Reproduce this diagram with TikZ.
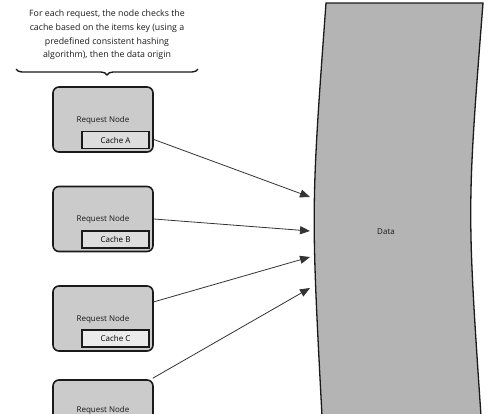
\documentclass[tikz,border=0pt]{standalone}
\usepackage{fontspec}
\setmainfont{Open Sans}
\usetikzlibrary{arrows.meta,decorations.pathreplacing,calc}
\definecolor{boxfill}{HTML}{CBCBCB}
\definecolor{cachefill}{HTML}{DDDDDD}
\definecolor{datafill}{HTML}{B4B4B4}
\definecolor{edge}{HTML}{1A1A1A}
\tikzset{
  reqbox/.style={draw=edge, line width=1.6pt, fill=boxfill, rounded corners=6pt,
    minimum width=100pt, minimum height=65pt, inner sep=0pt},
  cachebox/.style={draw=edge, line width=1.6pt, fill=cachefill,
    minimum width=67pt, minimum height=17pt, inner sep=0pt, font=\fontsize{8}{9}\selectfont},
  lbl/.style={font=\fontsize{8}{9}\selectfont, text=black!90, inner sep=0pt},
  conn/.style={draw=black!80, line width=0.8pt, -{Triangle[length=10pt,width=8pt]}}
}
\begin{document}
\begin{tikzpicture}[x=1pt,y=-1pt]
\useasboundingbox (0,0) rectangle (500,413);
% data shape
\draw[draw=edge, line width=1.3pt, fill=datafill]
  (326,3) -- (483,3) .. controls (467,208) .. (481,416) -- (322,416)
  .. controls (311,208) .. (326,3) -- cycle;
\node[lbl] (data) at (386,232) {Data};
% caption
\node[align=center, font=\fontsize{8.8}{13.6}\selectfont, text=black!90, inner sep=0pt] (cap) at (107,35)
  {For each request, the node checks the\\cache based on the items key (using a\\predefined consistent hashing\\algorithm), then the data origin};
\coordinate (bl) at (16,69);
\coordinate (br) at (198,69);
\draw[draw=edge, line width=1.4pt, decorate, decoration={brace, amplitude=6pt, mirror}] (bl) -- (br);
% request nodes
\node[reqbox] (r1) at (103,119.5) {};
\node[reqbox] (r2) at (103,219) {};
\node[reqbox] (r3) at (103,318.5) {};
\node[reqbox] (r4) at (103,412.5) {};
\node[lbl] (l1) at (103,120) {Request Node};
\node[lbl] (l2) at (103,219) {Request Node};
\node[lbl] (l3) at (103,319) {Request Node};
\node[lbl] (l4) at (103,410) {Request Node};
\node[cachebox] (c1) at (115.5,140) {Cache A};
\node[cachebox] (c2) at (115.5,239.5) {Cache B};
\node[cachebox, fill=black!8] (c3) at (115.5,338.5) {Cache C};
% arrow targets
\coordinate (t1) at (310,197);
\coordinate (t2) at (310,231);
\coordinate (t3) at (310,257);
\coordinate (t4) at (310,288);
\draw[conn] ($(r1.north east)!0.8!(r1.south east)$) -- (t1);
\draw[conn] (r2.east) -- (t2);
\draw[conn] ($(r3.north east)!0.25!(r3.south east)$) -- (t3);
\draw[conn] ($(r4.north east)+(-1,-1)$) -- (t4);
\end{tikzpicture}
\end{document}
